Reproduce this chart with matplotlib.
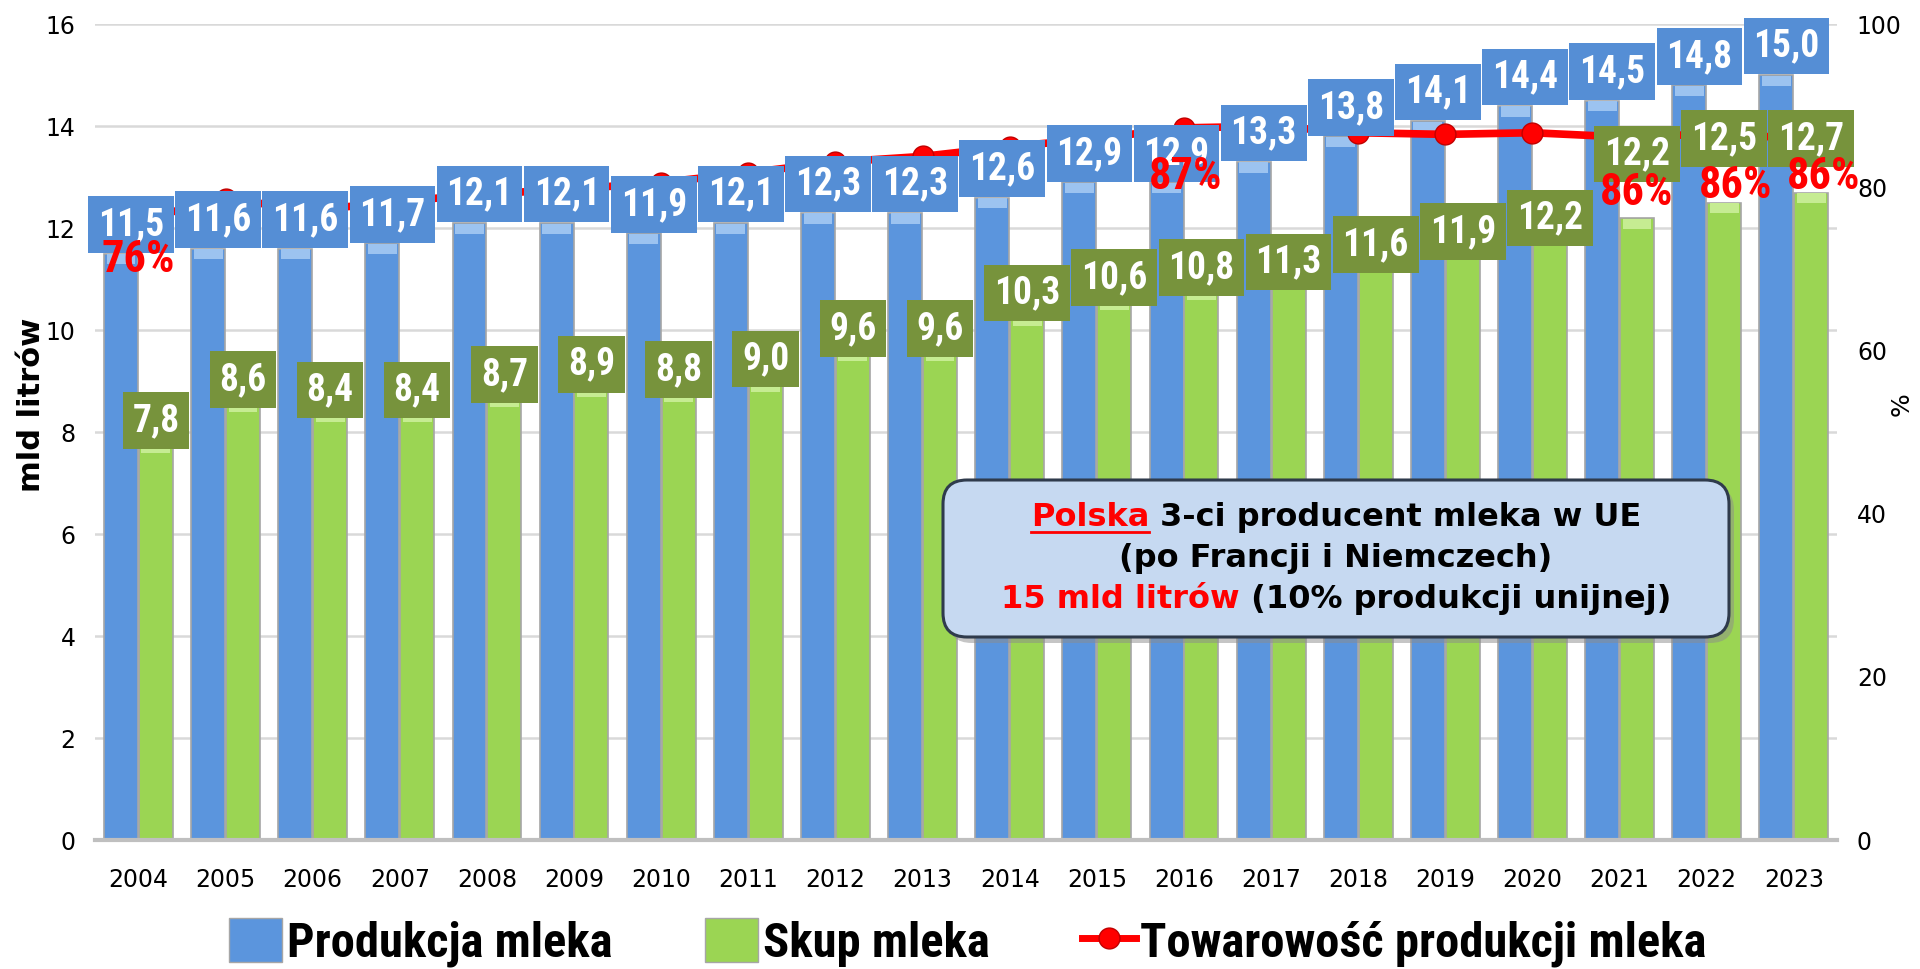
import numpy as np
import matplotlib.pyplot as plt
from matplotlib.offsetbox import TextArea, HPacker, VPacker, AnnotationBbox
from matplotlib.lines import Line2D
from matplotlib.patches import Patch, FancyBboxPatch
from matplotlib.transforms import IdentityTransform

# dane
lata = ['2004', '2005', '2006', '2007', '2008', '2009', '2010', '2011', '2012', '2013',
        '2014', '2015', '2016', '2017', '2018', '2019', '2020', '2021', '2022', '2023']
produkcja = [11.5, 11.6, 11.6, 11.7, 12.1, 12.1, 11.9, 12.1, 12.3, 12.3,
             12.6, 12.9, 12.9, 13.3, 13.8, 14.1, 14.4, 14.5, 14.8, 15.0]
skup = [7.8, 8.6, 8.4, 8.4, 8.7, 8.9, 8.8, 9.0, 9.6, 9.6,
        10.3, 10.6, 10.8, 11.3, 11.6, 11.9, 12.2, 12.2, 12.5, 12.7]
towarowosc = [76.0, 78.6, 77.2, 78.3, 79.2, 79.8, 80.6, 81.8, 83.1, 83.8,
              85.0, 86.0, 87.3, 87.5, 86.7, 86.5, 86.7, 86.2, 86.5, 86.1]

NIEBIESKI = '#5B95DD'
ZIELONY = '#9BD553'
BOX_NIEB = '#558ED5'
BOX_ZIEL = '#77933C'
WASKA = ['Roboto Condensed', 'Roboto', 'DejaVu Sans']

plt.rcParams['font.family'] = ['DejaVu Sans']

fig = plt.figure(figsize=(19.2, 9.69), dpi=100)
ax = fig.add_axes([0.0494, 0.133, 0.9076, 0.842])
ax2 = ax.twinx()

x = np.arange(len(lata))
w = 0.39

ax.bar(x - 0.2, produkcja, w, color=NIEBIESKI, edgecolor='#A6A6A6', linewidth=1.2, zorder=2)
ax.bar(x + 0.2, skup, w, color=ZIELONY, edgecolor='#A6A6A6', linewidth=1.2, zorder=2)
# jasniejszy "fazowany" szczyt slupkow
ax.bar(x - 0.2, [0.2] * len(x), w * 0.85, bottom=np.array(produkcja) - 0.21,
       color='#9CC3F0', edgecolor='none', zorder=3)
ax.bar(x + 0.2, [0.2] * len(x), w * 0.85, bottom=np.array(skup) - 0.21,
       color='#C6EC92', edgecolor='none', zorder=3)

ax.set_ylim(0, 16)
ax.set_xlim(-0.5, len(lata) - 0.5)
ax.set_yticks(range(0, 17, 2))
ax.set_xticks(x)
ax.set_xticklabels(lata)
ax.tick_params(axis='both', length=0, labelsize=17)
ax.tick_params(axis='x', pad=20)
ax.tick_params(axis='y', pad=14)
ax.grid(axis='y', color='#D9D9D9', linewidth=1.8, zorder=0)
ax.set_axisbelow(True)
for s in ['top', 'left', 'right']:
    ax.spines[s].set_visible(False)
ax.spines['bottom'].set_color('#BFBFBF')
ax.spines['bottom'].set_linewidth(3)
ax.set_ylabel('mld litrów', fontsize=22, fontweight='bold')
ax.yaxis.set_label_coords(-0.028, 0.534)

# linia towarowosci
ax2.plot(x, towarowosc, color='red', linewidth=5.5, marker='o', markersize=15,
         markerfacecolor='red', markeredgecolor='#C00000', zorder=3)
ax2.set_ylim(0, 100)
ax2.set_yticks(range(0, 101, 20))
ax2.tick_params(axis='y', length=0, labelsize=17, pad=14)
for s in ['top', 'left', 'right', 'bottom']:
    ax2.spines[s].set_visible(False)
ax2.set_ylabel('%', fontsize=18)
ax2.yaxis.set_label_coords(1.03, 0.534)

# etykiety slupkow (przesuniecie srodka ramki nad szczytem slupka, w px)
przes_ziel = {13: 2, 14: 4, 15: 2, 16: 0, 17: 64, 18: 64, 19: 54}
for i in range(len(lata)):
    ax2.annotate(f'{produkcja[i]:.1f}'.replace('.', ','),
                 xy=(x[i] - 0.2, produkcja[i] * 100 / 16), xytext=(10, 29),
                 textcoords='offset pixels', ha='center', va='center',
                 fontsize=27, fontweight='bold', color='white', family=WASKA,
                 bbox=dict(boxstyle='square,pad=0.26', fc=BOX_NIEB, ec='none'), zorder=5)
    ax2.annotate(f'{skup[i]:.1f}'.replace('.', ','),
                 xy=(x[i] + 0.2, skup[i] * 100 / 16), xytext=(0, przes_ziel.get(i, 22)),
                 textcoords='offset pixels', ha='center', va='center',
                 fontsize=27, fontweight='bold', color='white', family=WASKA,
                 bbox=dict(boxstyle='square,pad=0.26', fc=BOX_ZIEL, ec='none'), zorder=5)

# etykiety procentow: indeks punktu -> przesuniecie (px)
etykiety_proc = {0: (0, 40), 12: (2, 49), 17: (17, 56), 18: (29, 52), 19: (30, 39)}
for i, (dx, dy) in etykiety_proc.items():
    ax2.annotate(f'{towarowosc[i]:.0f}%', xy=(x[i], towarowosc[i]), xytext=(dx, -dy),
                 textcoords='offset pixels', ha='center', va='center',
                 fontsize=32, fontweight='bold', color='red', family=WASKA, zorder=6)

# ramka z opisem (w pikselach figury)
bx0, by0, bw, bh = 943, 332, 786, 157
cien = FancyBboxPatch((bx0 + 5, by0 - 6), bw, bh, boxstyle='round,pad=0,rounding_size=24',
                      transform=IdentityTransform(), fc='#8C8C8C', ec='none', alpha=0.5, zorder=9)
ramka = FancyBboxPatch((bx0, by0), bw, bh, boxstyle='round,pad=0,rounding_size=24',
                       transform=IdentityTransform(), fc='#C6D9F1', ec='#2F3B4C', lw=2.2, zorder=10)
fig.add_artist(cien)
fig.add_artist(ramka)

fs = 23
ta_polska = TextArea('Polska', textprops=dict(color='red', fontsize=fs, fontweight='bold'))
linia1 = HPacker(children=[ta_polska,
                           TextArea(' 3-ci producent mleka w UE',
                                    textprops=dict(color='black', fontsize=fs, fontweight='bold'))],
                 align='baseline', pad=0, sep=0)
linia2 = TextArea('(po Francji i Niemczech)', textprops=dict(color='black', fontsize=fs, fontweight='bold'))
linia3 = HPacker(children=[TextArea('15 mld litrów', textprops=dict(color='red', fontsize=fs, fontweight='bold')),
                           TextArea(' (10% produkcji unijnej)',
                                    textprops=dict(color='black', fontsize=fs, fontweight='bold'))],
                 align='baseline', pad=0, sep=0)
blok = VPacker(children=[linia1, linia2, linia3], align='center', pad=0, sep=7)
ab = AnnotationBbox(blok, (bx0 + bw / 2, by0 + bh / 2), xycoords='figure pixels',
                    frameon=False, box_alignment=(0.5, 0.5))
ab.set_zorder(11)
fig.add_artist(ab)

# legenda
uchwyty = [Patch(facecolor=NIEBIESKI, edgecolor='#A6A6A6'),
           Patch(facecolor=ZIELONY, edgecolor='#A6A6A6'),
           Line2D([0], [0], color='red', linewidth=5, marker='o', markersize=15,
                  markerfacecolor='red', markeredgecolor='#C00000')]
fig.legend(uchwyty, ['Produkcja mleka', 'Skup mleka', 'Towarowość produkcji mleka'],
           loc='center', bbox_to_anchor=(0.504, 0.027), ncol=3, frameon=False,
           prop=dict(family=WASKA, weight='bold', size=35),
           handlelength=1.1, handleheight=1.0, handletextpad=0.1, columnspacing=1.9)

# podkreslenie slowa Polska
fig.canvas.draw()
bb = ta_polska._text.get_window_extent()
fig.add_artist(Line2D([bb.x0, bb.x1], [bb.y0 + 1, bb.y0 + 1], color='red', linewidth=2,
                      transform=IdentityTransform(), zorder=12))

fig.savefig('out.png', dpi=100)
